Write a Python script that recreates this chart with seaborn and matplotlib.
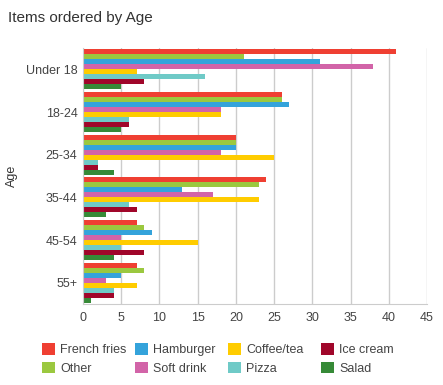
import pandas as pd
import seaborn as sns
import matplotlib.pyplot as plt

ages = ['Under 18', '18-24', '25-34', '35-44', '45-54', '55+']
items = ['French fries', 'Other', 'Hamburger', 'Soft drink',
         'Coffee/tea', 'Pizza', 'Ice cream', 'Salad']

french_fries = [41, 26, 20, 24, 7, 7]
other = [21, 26, 20, 23, 8, 8]
hamburger = [31, 27, 20, 13, 9, 5]
soft_drink = [38, 18, 18, 17, 5, 3]
coffee_tea = [7, 18, 25, 23, 15, 7]
pizza = [16, 6, 2, 6, 5, 4]
ice_cream = [8, 6, 2, 7, 8, 4]
salad = [5, 5, 4, 3, 4, 1]

colors = ['#ef3f32', '#9bc83f', '#34a3db', '#d264a8',
          '#ffcc00', '#6fcac7', '#a0062a', '#368a37']

series = [french_fries, other, hamburger, soft_drink,
          coffee_tea, pizza, ice_cream, salad]
rows = []
for item, vals in zip(items, series):
    for age, v in zip(ages, vals):
        rows.append({'Age': age, 'Item': item, 'Count': v})
df = pd.DataFrame(rows)

sns.set_style('white')
plt.rcParams['font.family'] = ['Liberation Sans', 'DejaVu Sans']

fig = plt.figure(figsize=(4.43, 3.85), dpi=100)
ax = fig.add_axes([83 / 443, 1 - 304 / 385, 344 / 443, 256 / 385])

sns.barplot(data=df, y='Age', x='Count', hue='Item', order=ages,
            hue_order=items, palette=colors, orient='h', width=0.94,
            gap=0, saturation=1, linewidth=0, edgecolor='none',
            ax=ax, legend=True)

ax.set_xlim(0, 45)
ax.set_xticks(range(0, 46, 5))
ax.grid(axis='x', color='#cccccc', linewidth=1)
ax.set_axisbelow(True)
for s in ['top', 'right']:
    ax.spines[s].set_visible(False)
ax.spines['left'].set_color('#cccccc')
ax.spines['bottom'].set_color('#cccccc')
ax.tick_params(axis='x', length=3, color='#cccccc', labelsize=9,
               labelcolor='#444444', pad=3)
ax.tick_params(axis='y', length=0, labelsize=9, labelcolor='#444444', pad=4)
ax.set_xlabel('')
ax.set_ylabel('Age', fontsize=9, color='#333333')
ax.yaxis.set_label_coords(-65 / 344, 0.5)

fig.text(8 / 443, 1 - 22 / 385, 'Items ordered by Age', fontsize=11,
         color='#333333', ha='left', va='baseline')

handles, labels = ax.get_legend_handles_labels()
ax.get_legend().remove()
col_x = [42, 135, 228, 321]
for i, x in enumerate(col_x):
    fig.legend(handles[2 * i:2 * i + 2], labels[2 * i:2 * i + 2], ncol=1,
               loc='upper left', bbox_to_anchor=(x / 443, 1 - 343 / 385),
               frameon=False, fontsize=9, labelcolor='#444444',
               handlelength=1.05, handleheight=1.05, handletextpad=0.4,
               labelspacing=0.45, borderaxespad=0, borderpad=0)

fig.savefig('out.png', dpi=100)
